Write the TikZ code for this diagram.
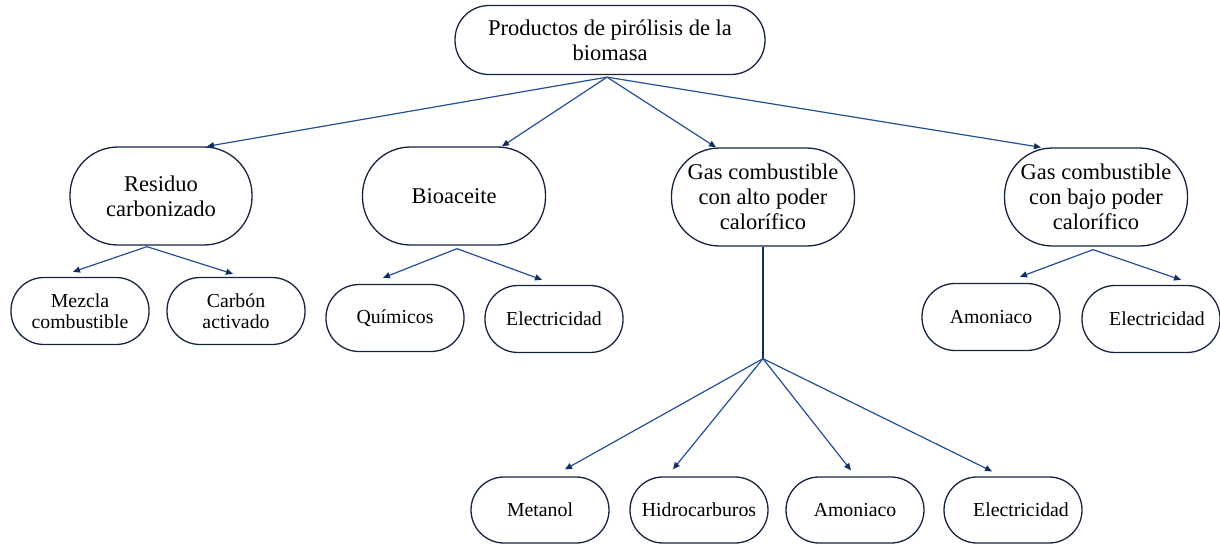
\documentclass[tikz,border=0pt]{standalone}
\usepackage{fontspec}
\setmainfont{Liberation Serif}
\usetikzlibrary{arrows.meta,calc}
\definecolor{boxline}{RGB}{22,36,66}
\definecolor{arrowline}{RGB}{36,78,150}
\definecolor{arrowtip}{RGB}{20,44,100}
\tikzset{
  pill/.style={draw=boxline, line width=1.3pt, fill=white, align=center, inner sep=0pt},
  bigpill/.style={pill, minimum width=183pt, minimum height=98pt, rounded corners=48pt,
    font=\fontsize{22.5}{25}\selectfont},
  toppill/.style={pill, minimum width=310pt, minimum height=69pt, rounded corners=34pt,
    font=\fontsize{22.5}{25}\selectfont},
  smallpill/.style={pill, minimum width=138pt, minimum height=67pt, rounded corners=33pt,
    font=\fontsize{19.8}{21}\selectfont},
  link/.style={draw=arrowline, line width=1.2pt,
    -{Triangle[length=7pt,width=6pt,color=arrowtip]}},
  stem/.style={draw=arrowtip, line width=1.1pt}
}
\begin{document}
\begin{tikzpicture}[x=1pt,y=-1pt]
\useasboundingbox (0,0) rectangle (1220,544);

% root
\node[toppill] (top) at (610,40) {Productos de pirólisis de la\\biomasa};

% second level
\node[bigpill, minimum width=182pt] (res) at (161,196) {Residuo\\carbonizado};
\node[bigpill] (bio) at (454,196) {Bioaceite};
\node[bigpill] (alto) at (763,197) {Gas combustible\\con alto poder\\calorífico};
\node[bigpill] (bajo) at (1096,197) {Gas combustible\\con bajo poder\\calorífico};

% third level
\node[smallpill] (mezcla) at (80,311) {Mezcla\\combustible};
\node[smallpill] (carbon) at (236,311) {Carbón\\activado};
\node[smallpill] (quim) at (395,318) {Químicos};
\node[smallpill] (elecA) at (554,319) {Electricidad};
\node[smallpill] (amonA) at (991,317) {Amoniaco};
\node[smallpill] (elecB) at (1151,319) {\hspace*{12pt}Electricidad};

% products of the high calorific gas
\node[smallpill, minimum height=66pt] (metanol) at (540,510) {Metanol};
\node[smallpill, minimum height=66pt] (hidro) at (699,510) {\raisebox{-4pt}{Hidrocarburos}};
\node[smallpill, minimum height=66pt] (amonB) at (855,510) {Amoniaco};
\node[smallpill, minimum height=66pt] (elecC) at (1013,510) {\hspace*{16pt}Electricidad};

% branching points
\coordinate (topfork) at ($(top.south)+(-3,2)$);
\coordinate (resfork) at ($(res.south)+(-14,1)$);
\coordinate (biofork) at ($(bio.south)+(3,3)$);
\coordinate (bajofork) at ($(bajo.south)+(-3,3)$);
\coordinate (altofork) at ($(alto.south)+(0,112)$);

% root to second level
\draw[link] (topfork) -- ($(res.north)+(46,0)$);
\draw[link] (topfork) -- ($(bio.north)+(48,0)$);
\draw[link] (topfork) -- ($(alto.north)+(-47,0)$);
\draw[link] (topfork) -- ($(bajo.north)+(-55,0)$);

% residue
\draw[link] (resfork) -- ($(mezcla.north)+(-7,-5)$);
\draw[link] (resfork) -- ($(carbon.north)+(-3,-3)$);

% bio-oil
\draw[link] (biofork) -- ($(quim.north)+(-12,-6)$);
\draw[link] (biofork) -- ($(elecA.north)+(-12,-5)$);

% low calorific gas
\draw[link] (bajofork) -- ($(amonA.north)+(29,-6)$);
\draw[link] (bajofork) -- ($(elecB.north)+(30,-5)$);

% high calorific gas
\draw[stem] (alto.south) -- (altofork);
\draw[link] (altofork) -- ($(metanol.north)+(25,-7)$);
\draw[link] (altofork) -- ($(hidro.north)+(-26,-7)$);
\draw[link] (altofork) -- ($(amonB.north)+(-4,-6)$);
\draw[link] (altofork) -- ($(elecC.north)+(-21,-5)$);
\end{tikzpicture}
\end{document}
